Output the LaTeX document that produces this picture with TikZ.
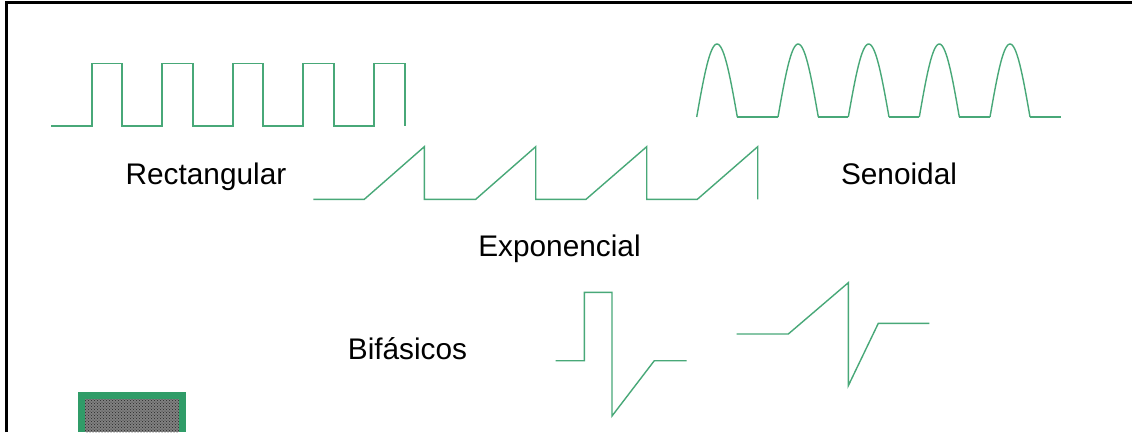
\documentclass[tikz,border=0pt]{standalone}
\usepackage{fontspec}
\setmainfont{Liberation Sans}
\usetikzlibrary{patterns}
\definecolor{wave}{RGB}{72,168,120}
\definecolor{boxgreen}{RGB}{48,156,104}
\begin{document}
\begin{tikzpicture}[x=1pt,y=-1pt,
  wavestyle/.style={draw=wave,line width=1.4pt,line join=miter},
  lbl/.style={anchor=base,inner sep=0pt,font=\fontsize{29.8}{32}\selectfont}]
\useasboundingbox (0,0) rectangle (1132,432);
\fill[white] (0,0) rectangle (1132,432);
% frame
\draw[line width=3pt,black] (6,432) -- (6,2.5) -- (1132,2.5);
% rectangular wave
\draw[wavestyle] (51,126) -- (92,126) -- (92,63.5) -- (122,63.5) -- (122,126)
  -- (162,126) -- (162,63.5) -- (193,63.5) -- (193,126)
  -- (233,126) -- (233,63.5) -- (263,63.5) -- (263,126)
  -- (303,126) -- (303,63.5) -- (334,63.5) -- (334,126)
  -- (374,126) -- (374,63.5) -- (405,63.5) -- (405,126);
% sinusoidal humps
\foreach \a/\b [count=\i] in {696.7/737.3,778/818.3,848.3/889,919.3/959.3,990/1030}{
  \draw[wavestyle] plot[domain=0:180,samples=40] ({\a+(\b-\a)*\x/180},{117-73*sin(\x)});
}
\draw[wavestyle] (737.3,117) -- (778,117);
\draw[wavestyle] (818.3,117) -- (848.3,117);
\draw[wavestyle] (889,117) -- (919.3,117);
\draw[wavestyle] (959.3,117) -- (990,117);
\draw[wavestyle] (1030,117) -- (1061,117);
% exponential (sawtooth)
\draw[wavestyle] (313.3,199.3) -- (364.3,199.3) -- (424.3,146.7) -- (424.3,199.3)
  -- (475.7,199.3) -- (535.7,146.7) -- (535.7,199.3)
  -- (586,199.3) -- (646.7,146.7) -- (646.7,199.3)
  -- (697.3,199.3) -- (757.7,146.7) -- (757.7,199.3);
% biphasic 1
\draw[wavestyle] (555.7,360.7) -- (584.3,360.7) -- (584.3,292.3) -- (612,292.3)
  -- (612,416) -- (654.3,360.7) -- (686.7,360.7);
% biphasic 2
\draw[wavestyle] (736.7,334) -- (788.3,334) -- (848.3,282.7) -- (848.3,385.7)
  -- (878.3,323.3) -- (929.3,323.3);
% labels
\node[lbl] (rect) at (206,184) {Rectangular};
\node[lbl] (seno) at (899,184) {Senoidal};
\node[lbl] (expo) at (559.5,256) {Exponencial};
\node[lbl] (bifa) at (407.5,359.3) {Bifásicos};
% green box
\fill[boxgreen] (78.3,392.3) rectangle (186,432);
\fill[black!50] (85,399) rectangle (179,432);
\fill[pattern=crosshatch dots,pattern color=black!85] (85,399) rectangle (179,432);
\end{tikzpicture}
\end{document}
